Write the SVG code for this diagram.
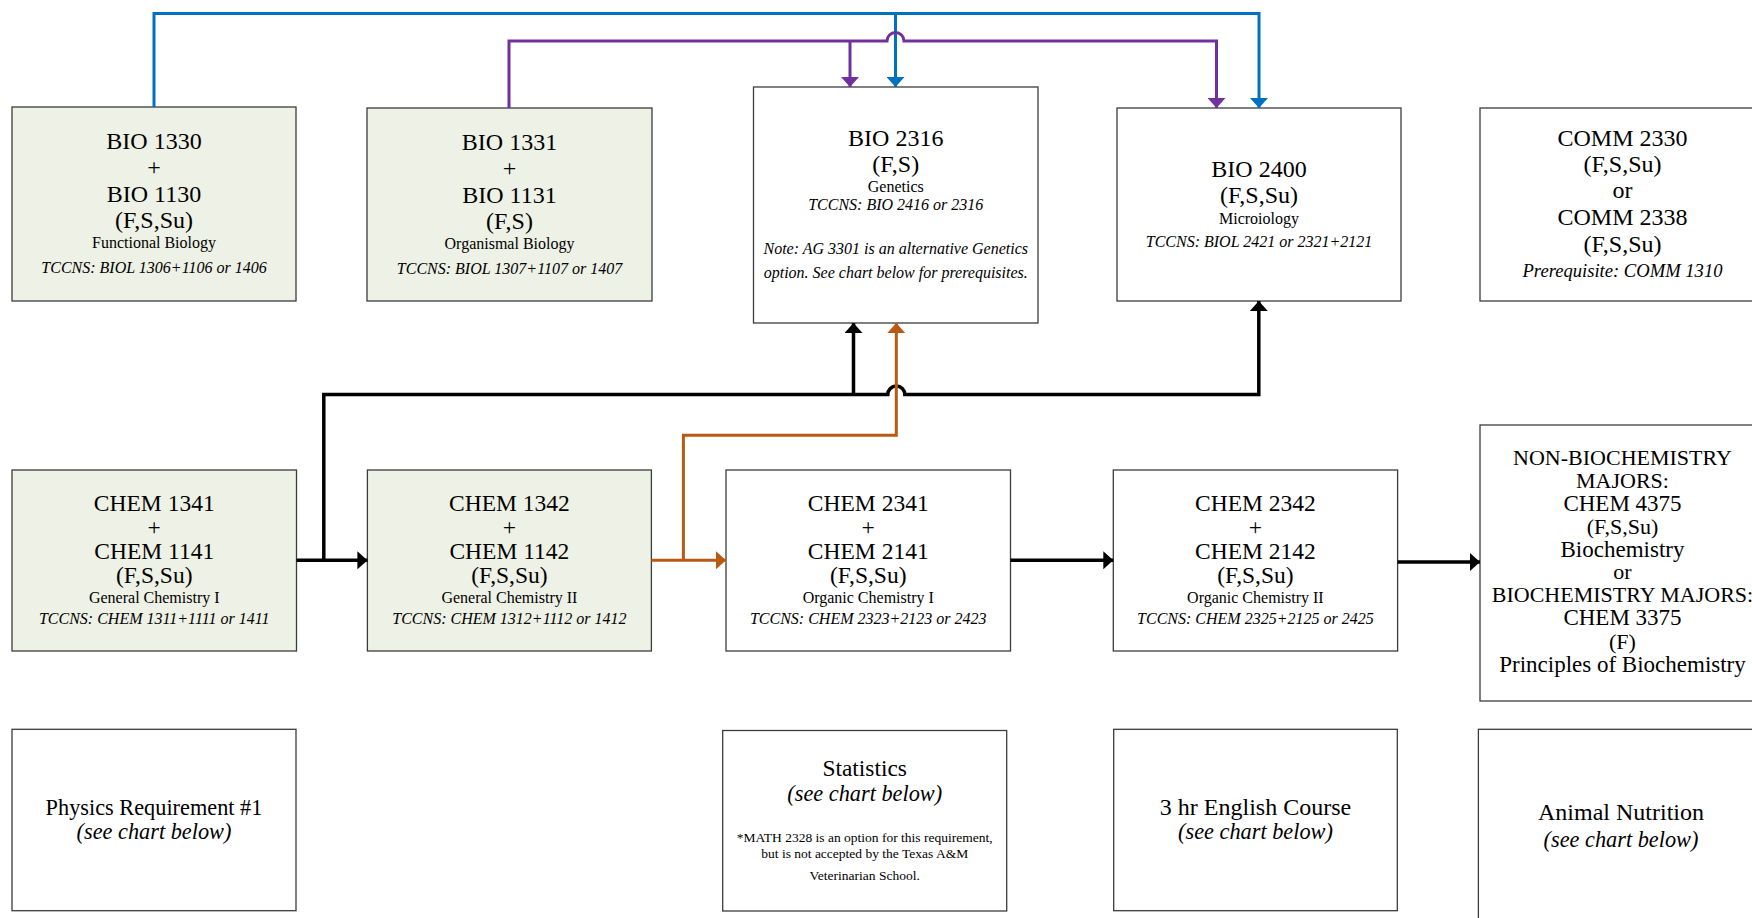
<svg xmlns="http://www.w3.org/2000/svg" width="1752" height="918" viewBox="0 0 1752 918">
<style>
.box{fill:#ffffff;stroke:#3c3c3c;stroke-width:1.3}
.green{fill:#EEF1E5}
text{font-family:"Liberation Serif","Times New Roman",serif;text-anchor:middle;fill:#000}
.big{font-size:24px}
.chem{font-size:23.5px}
.sm{font-size:16px}
.it{font-style:italic}
.xs{font-size:13.5px}
.bc{font-size:22px}
.conn{fill:none;stroke-linejoin:miter}
.blue{stroke:#0070C0;stroke-width:3}
.purple{stroke:#7030A0;stroke-width:3}
.black{stroke:#000;stroke-width:3.5}
.orange{stroke:#B85A14;stroke-width:3}
</style>
<defs>
<marker id="ab" viewBox="0 0 10 18" refX="10" refY="9" markerWidth="10" markerHeight="18" markerUnits="userSpaceOnUse" orient="auto"><path d="M0,0 L10,9 L0,18 z" fill="#0070C0"/></marker>
<marker id="ap" viewBox="0 0 10 18" refX="10" refY="9" markerWidth="10" markerHeight="18" markerUnits="userSpaceOnUse" orient="auto"><path d="M0,0 L10,9 L0,18 z" fill="#7030A0"/></marker>
<marker id="ak" viewBox="0 0 10 18" refX="10" refY="9" markerWidth="10" markerHeight="18" markerUnits="userSpaceOnUse" orient="auto"><path d="M0,0 L10,9 L0,18 z" fill="#000"/></marker>
<marker id="ao" viewBox="0 0 10 18" refX="10" refY="9" markerWidth="10" markerHeight="18" markerUnits="userSpaceOnUse" orient="auto"><path d="M0,0 L10,9 L0,18 z" fill="#B85A14"/></marker>
</defs>
<rect width="1752" height="918" fill="#ffffff"/>

<g id="bio1330">
<rect class="box green" x="12" y="107" width="284" height="194"/>
<text class="big" x="154" y="149.3">BIO 1330</text>
<text class="big" x="154" y="174.5">+</text>
<text class="big" x="154" y="202.3">BIO 1130</text>
<text class="big" x="154" y="228">(F,S,Su)</text>
<text class="sm" x="154" y="248.3">Functional Biology</text>
<text class="sm it" x="154" y="272.5">TCCNS: BIOL 1306+1106 or 1406</text>
</g>

<g id="bio1331">
<rect class="box green" x="367" y="108" width="285" height="193"/>
<text class="big" x="509.5" y="150">BIO 1331</text>
<text class="big" x="509.5" y="175.5">+</text>
<text class="big" x="509.5" y="203.3">BIO 1131</text>
<text class="big" x="509.5" y="229">(F,S)</text>
<text class="sm" x="509.5" y="249.3">Organismal Biology</text>
<text class="sm it" x="509.5" y="273.5">TCCNS: BIOL 1307+1107 or 1407</text>
</g>

<g id="bio2316">
<rect class="box" x="753.5" y="87" width="284.5" height="236"/>
<text class="big" x="895.75" y="146">BIO 2316</text>
<text class="big" x="895.75" y="171.7">(F,S)</text>
<text class="sm" x="895.75" y="192">Genetics</text>
<text class="sm it" x="895.75" y="210">TCCNS: BIO 2416 or 2316</text>
<text class="sm it" x="895.75" y="254.3">Note: AG 3301 is an alternative Genetics</text>
<text class="sm it" x="895.75" y="278.3">option. See chart below for prerequisites.</text>
</g>

<g id="bio2400">
<rect class="box" x="1117" y="108" width="284" height="193"/>
<text class="big" x="1259" y="176.7">BIO 2400</text>
<text class="big" x="1259" y="203.2">(F,S,Su)</text>
<text class="sm" x="1259" y="224">Microiology</text>
<text class="sm it" x="1259" y="246.7">TCCNS: BIOL 2421 or 2321+2121</text>
</g>

<g id="comm">
<rect class="box" x="1480" y="108" width="285" height="193"/>
<text class="big" x="1622.5" y="146">COMM 2330</text>
<text class="big" x="1622.5" y="171.5">(F,S,Su)</text>
<text class="big" x="1622.5" y="198">or</text>
<text class="big" x="1622.5" y="225">COMM 2338</text>
<text class="big" x="1622.5" y="251.5">(F,S,Su)</text>
<text class="it" style="font-size:18.6px" x="1622.5" y="277">Prerequisite: COMM 1310</text>
</g>

<g id="chem1341">
<rect class="box green" x="12" y="470" width="284.5" height="181"/>
<text class="chem" x="154.25" y="510.7">CHEM 1341</text>
<text class="chem" x="154.25" y="534.5">+</text>
<text class="chem" x="154.25" y="559.3">CHEM 1141</text>
<text class="chem" x="154.25" y="582.5">(F,S,Su)</text>
<text class="sm" x="154.25" y="603">General Chemistry I</text>
<text class="sm it" x="154.25" y="624">TCCNS: CHEM 1311+1111 or 1411</text>
</g>

<g id="chem1342">
<rect class="box green" x="367.4" y="470" width="284" height="181"/>
<text class="chem" x="509.4" y="510.7">CHEM 1342</text>
<text class="chem" x="509.4" y="534.5">+</text>
<text class="chem" x="509.4" y="559.3">CHEM 1142</text>
<text class="chem" x="509.4" y="582.5">(F,S,Su)</text>
<text class="sm" x="509.4" y="603">General Chemistry II</text>
<text class="sm it" x="509.4" y="624">TCCNS: CHEM 1312+1112 or 1412</text>
</g>

<g id="chem2341">
<rect class="box" x="726" y="470" width="284.5" height="181"/>
<text class="chem" x="868.25" y="510.7">CHEM 2341</text>
<text class="chem" x="868.25" y="534.5">+</text>
<text class="chem" x="868.25" y="559.3">CHEM 2141</text>
<text class="chem" x="868.25" y="582.5">(F,S,Su)</text>
<text class="sm" x="868.25" y="603">Organic Chemistry I</text>
<text class="sm it" x="868.25" y="624">TCCNS: CHEM 2323+2123 or 2423</text>
</g>

<g id="chem2342">
<rect class="box" x="1113.3" y="470" width="284.3" height="181"/>
<text class="chem" x="1255.4" y="510.7">CHEM 2342</text>
<text class="chem" x="1255.4" y="534.5">+</text>
<text class="chem" x="1255.4" y="559.3">CHEM 2142</text>
<text class="chem" x="1255.4" y="582.5">(F,S,Su)</text>
<text class="sm" x="1255.4" y="603">Organic Chemistry II</text>
<text class="sm it" x="1255.4" y="624">TCCNS: CHEM 2325+2125 or 2425</text>
</g>

<g id="biochem">
<rect class="box" x="1480" y="425" width="285" height="276"/>
<text class="bc" x="1622.5" y="464.5">NON-BIOCHEMISTRY</text>
<text class="bc" x="1622.5" y="487.5">MAJORS:</text>
<text class="bc" x="1622.5" y="510.5" style="font-size:23px">CHEM 4375</text>
<text class="bc" x="1622.5" y="533.5">(F,S,Su)</text>
<text class="bc" x="1622.5" y="556.5" style="font-size:23px">Biochemistry</text>
<text class="bc" x="1622.5" y="579">or</text>
<text class="bc" x="1622.5" y="602">BIOCHEMISTRY MAJORS:</text>
<text class="bc" x="1622.5" y="625" style="font-size:23px">CHEM 3375</text>
<text class="bc" x="1622.5" y="648.5">(F)</text>
<text class="bc" x="1622.5" y="671.5" style="font-size:23px">Principles of Biochemistry</text>
</g>

<g id="physics">
<rect class="box" x="12" y="729.3" width="284" height="181.4"/>
<text style="font-size:22.3px" x="154" y="815">Physics Requirement #1</text>
<text class="it" style="font-size:22.3px" x="154" y="839">(see chart below)</text>
</g>

<g id="statistics">
<rect class="box" x="722.7" y="730.5" width="284" height="180.5"/>
<text style="font-size:23.4px" x="864.7" y="775.5">Statistics</text>
<text class="it" style="font-size:22.3px" x="864.7" y="800.5">(see chart below)</text>
<text class="xs" x="864.7" y="842">*MATH 2328 is an option for this requirement,</text>
<text class="xs" x="864.7" y="858">but is not accepted by the Texas A&amp;M</text>
<text class="xs" x="864.7" y="880">Veterinarian School.</text>
</g>

<g id="english">
<rect class="box" x="1113.7" y="729.3" width="283.6" height="181.4"/>
<text style="font-size:24px" x="1255.5" y="814.5">3 hr English Course</text>
<text class="it" style="font-size:22.3px" x="1255.5" y="839">(see chart below)</text>
</g>

<g id="animal">
<rect class="box" x="1478.4" y="729.3" width="285" height="200"/>
<text style="font-size:24px" x="1621" y="820">Animal Nutrition</text>
<text class="it" style="font-size:22.3px" x="1621" y="846.5">(see chart below)</text>
</g>

<g id="connectors">
<path class="conn blue" d="M154,107 V13.5 H1259 V108" marker-end="url(#ab)"/>
<path class="conn blue" d="M895.5,13.5 V87" marker-end="url(#ab)"/>
<path class="conn purple" d="M509,108 V41 H887 A8.5,8.5 0 0 1 904,41 H1216.5 V108" marker-end="url(#ap)"/>
<path class="conn purple" d="M850,41 V87" marker-end="url(#ap)"/>
<path class="conn black" d="M296.5,560.3 H367.4" marker-end="url(#ak)"/>
<path class="conn black" d="M323.8,560.3 V394.5 H887.8 A8.5,8.5 0 0 1 904.8,394.5 H1258.8 V301" marker-end="url(#ak)"/>
<path class="conn black" d="M853.5,394.5 V323" marker-end="url(#ak)"/>
<path class="conn orange" d="M651.4,560.3 H726" marker-end="url(#ao)"/>
<path class="conn orange" d="M683.4,560.3 V435.3 H896.3 V323" marker-end="url(#ao)"/>
<path class="conn black" d="M1010.5,560.3 H1113.3" marker-end="url(#ak)"/>
<path class="conn black" d="M1397.6,562 H1480" marker-end="url(#ak)"/>
</g>
</svg>
